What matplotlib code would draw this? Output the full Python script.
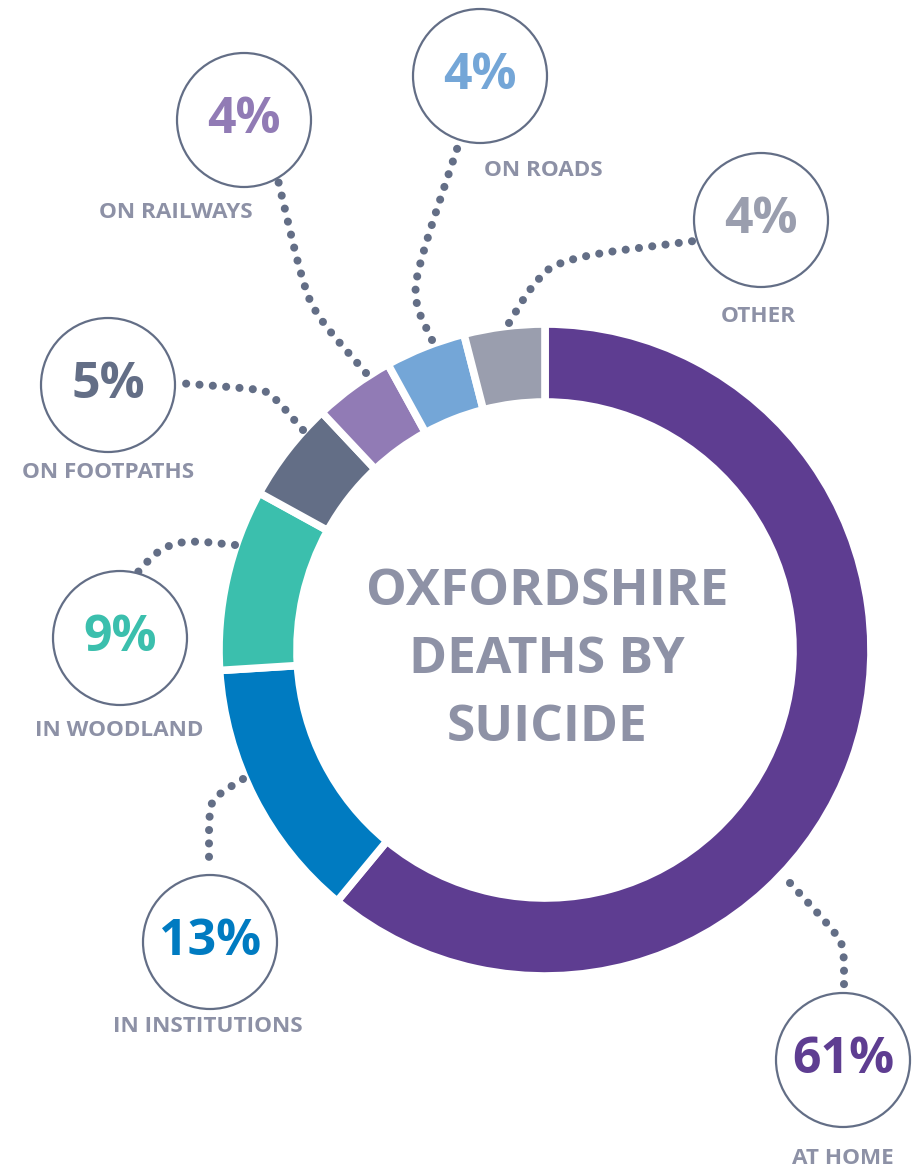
import numpy as np
import matplotlib
matplotlib.use("Agg")
import matplotlib.pyplot as plt
from matplotlib.patches import Circle

# ---- data ----
categories = ["AT HOME", "IN INSTITUTIONS", "IN WOODLAND", "ON FOOTPATHS",
              "ON RAILWAYS", "ON ROADS", "OTHER"]
values = [61, 13, 9, 5, 4, 4, 4]
colors = ["#5e3d91", "#007bc1", "#3bbfad", "#636e86", "#917bb5", "#74a6d7", "#9a9eae"]
title_lines = ["OXFORDSHIRE", "DEATHS BY", "SUICIDE"]

# ---- layout (pixel coordinates, y measured from top) ----
W, H = 921, 1176
CX, CY = 545, 650
R_OUT, RING = 326, 78
BUBBLE_R = 67
bubbles = {  # circle centre, label centre
    "AT HOME": ((843, 1060), (843, 1158)),
    "IN INSTITUTIONS": ((210, 942), (208, 1026)),
    "IN WOODLAND": ((120, 638), (119, 730)),
    "ON FOOTPATHS": ((108, 385), (108, 472)),
    "ON RAILWAYS": ((244, 120), (176, 212)),
    "ON ROADS": ((480, 76), (543, 170)),
    "OTHER": ((761, 220), (758, 316)),
}
leaders = {
    "AT HOME": [(790, 883), (836, 933), (844, 948), (844, 988)],
    "IN INSTITUTIONS": [(243, 779), (214, 797), (209, 812), (209, 862)],
    "IN WOODLAND": [(235, 545), (185, 540), (158, 550), (138, 572)],
    "ON FOOTPATHS": [(303, 430), (270, 392), (255, 389), (178, 383)],
    "ON RAILWAYS": [(366, 373), (318, 318), (303, 285), (278, 180)],
    "ON ROADS": [(432, 340), (413, 300), (420, 260), (458, 146)],
    "OTHER": [(509, 323), (532, 285), (560, 258), (694, 241)],
}

LINE_COL = "#636e86"
LABEL_COL = "#8d91a6"
FONT = ["Open Sans", "DejaVu Sans"]


def Y(y):
    return H - y


def chaikin(pts, n=4):
    pts = np.asarray(pts, float)
    for _ in range(n):
        new = [pts[0]]
        for a, b in zip(pts[:-1], pts[1:]):
            new.append(0.75 * a + 0.25 * b)
            new.append(0.25 * a + 0.75 * b)
        new.append(pts[-1])
        pts = np.array(new)
    return pts


fig = plt.figure(figsize=(W / 100, H / 100), dpi=100)
ax = fig.add_axes([0, 0, 1, 1])

ax.pie(values, colors=colors, radius=R_OUT, center=(CX, Y(CY)),
       startangle=90, counterclock=False,
       wedgeprops=dict(width=RING, edgecolor="white", linewidth=5.5))

for i, line in enumerate(title_lines):
    ax.text(CX + 2, Y(592 + 68 * i), line, ha="center", va="center",
            fontsize=37, color="#8e92a6", fontweight="bold", family=FONT)

for cat, val, col in zip(categories, values, colors):
    pts = chaikin([(x, Y(y)) for x, y in leaders[cat]])
    ax.plot(pts[:, 0], pts[:, 1], color=LINE_COL, lw=5.8,
            linestyle=(0, (0.01, 1.65)), dash_capstyle="round", zorder=3)
    (bx, by), (lx, ly) = bubbles[cat]
    ax.add_patch(Circle((bx, Y(by)), BUBBLE_R, facecolor="white",
                        edgecolor=LINE_COL, lw=1.6, zorder=4))
    ax.text(bx, Y(by), f"{val}%", ha="center", va="center", fontsize=36,
            color=col, fontweight="bold", family=FONT, zorder=5)
    ax.text(lx, Y(ly), cat, ha="center", va="center", fontsize=16.2,
            color=LABEL_COL, fontweight="bold", family=FONT, zorder=5)

ax.set_xlim(0, W)
ax.set_ylim(0, H)
ax.set_aspect("equal")
ax.axis("off")
fig.savefig("out.png", dpi=100)
